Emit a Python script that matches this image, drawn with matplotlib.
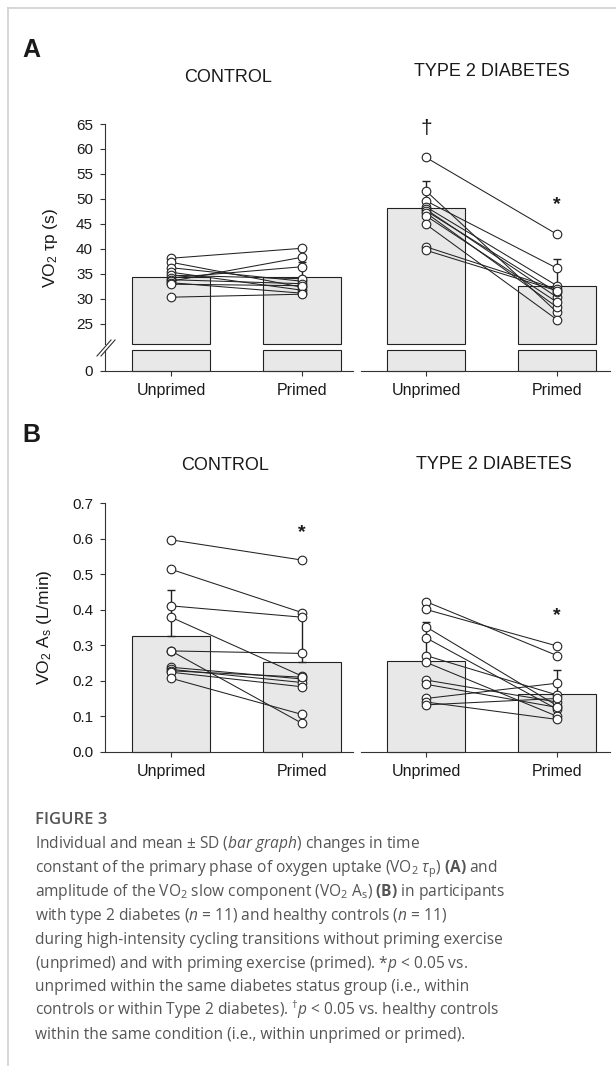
import numpy as np
import matplotlib
matplotlib.use("Agg")
import matplotlib.pyplot as plt
from matplotlib.lines import Line2D

# ---------------- data ----------------
conditions = ["Unprimed", "Primed"]
groups = ["CONTROL", "TYPE 2 DIABETES"]

# Panel A: VO2 tau_p (s)
tau_ctrl_unp = [38.1, 37.3, 36.2, 35.3, 34.7, 34.2, 33.8, 33.5, 33.2, 32.9, 30.3]
tau_ctrl_pri = [40.1, 32.3, 33.5, 31.7, 34.0, 36.4, 33.0, 38.3, 31.1, 32.6, 30.9]
tau_t2d_unp = [58.3, 51.6, 49.6, 48.4, 47.9, 47.6, 47.2, 46.6, 44.9, 40.4, 39.7]
tau_t2d_pri = [42.9, 27.3, 36.1, 32.6, 30.3, 31.3, 28.3, 29.3, 25.8, 31.9, 31.6]
tau_ctrl_mean = [34.3, 34.3]
tau_ctrl_sd = [2.2, 3.1]
tau_t2d_mean = [48.1, 32.5]
tau_t2d_sd = [5.5, 5.4]
tau_ticks = [25, 30, 35, 40, 45, 50, 55, 60, 65]

# Panel B: VO2 As (L/min)
as_ctrl_unp = [0.597, 0.514, 0.411, 0.379, 0.284, 0.284, 0.238, 0.232, 0.228, 0.224, 0.207]
as_ctrl_pri = [0.540, 0.392, 0.379, 0.213, 0.277, 0.080, 0.205, 0.195, 0.210, 0.183, 0.105]
as_t2d_unp = [0.423, 0.401, 0.352, 0.321, 0.271, 0.252, 0.202, 0.190, 0.150, 0.140, 0.132]
as_t2d_pri = [0.271, 0.298, 0.130, 0.120, 0.160, 0.100, 0.140, 0.125, 0.193, 0.091, 0.150]
as_ctrl_mean = [0.326, 0.253]
as_ctrl_sd = [0.130, 0.125]
as_t2d_mean = [0.256, 0.162]
as_t2d_sd = [0.110, 0.068]
as_ticks = [0.0, 0.1, 0.2, 0.3, 0.4, 0.5, 0.6, 0.7]

# axis break levels for panel A
BREAK_TOP = 21.0
BREAK_LOW = 4.2

# ---------------- style ----------------
plt.rcParams["font.family"] = ["Liberation Sans", "DejaVu Sans"]
plt.rcParams["mathtext.fontset"] = "custom"
plt.rcParams["mathtext.rm"] = "Open Sans"
plt.rcParams["mathtext.it"] = "Open Sans:italic"
plt.rcParams["mathtext.bf"] = "Open Sans:bold"

W, H = 616, 1066
fig = plt.figure(figsize=(W / 100, H / 100), dpi=100)
fig.patch.set_facecolor("white")

AXC = "#333333"
BARC = "#e8e8e8"
TXT = "#1a1a1a"
LW = 0.8


def px_axes(l, t, r, b):
    return fig.add_axes([l / W, 1 - b / H, (r - l) / W, (b - t) / H])


def fx(x):
    return x / W


def fy(y):
    return 1 - y / H


XL_CTRL = (-0.504, 1.389)
XL_T2D = (-0.496, 1.405)
BW = 0.6
xpos = np.arange(len(conditions))


def style_axes(ax, left=True, bottom=True):
    for s in ["top", "right"]:
        ax.spines[s].set_visible(False)
    ax.spines["left"].set_visible(left)
    ax.spines["bottom"].set_visible(bottom)
    for s in ["left", "bottom"]:
        ax.spines[s].set_color(AXC)
        ax.spines[s].set_linewidth(LW)
    ax.tick_params(axis="both", colors=AXC, labelcolor=TXT, width=LW,
                   length=3.6, labelsize=11)
    ax.tick_params(axis="y", pad=5)
    ax.tick_params(axis="x", pad=5, labelsize=11.5)
    ax.set_facecolor("none")


def draw_bars(ax, means, sd=None, bottom=0.0, cap=None):
    means = np.asarray(means, dtype=float)
    tops = means if cap is None else np.minimum(means, cap)
    ax.bar(xpos, tops - bottom, bottom=bottom, width=BW, color=BARC,
           edgecolor="#222222", linewidth=LW, zorder=1, clip_on=False)
    if sd is not None:
        ax.errorbar(xpos, means, yerr=[np.zeros(len(means)), sd], fmt="none",
                    ecolor="#222222", elinewidth=1.0, capsize=3.2,
                    capthick=1.0, zorder=2)


def draw_pairs(ax, unp, pri):
    for u, p in zip(unp, pri):
        ax.plot(xpos, [u, p], color="#222222", lw=0.75, zorder=3)
    for i, vals in enumerate([unp, pri]):
        ax.plot(np.full(len(vals), xpos[i]), vals, linestyle="none", marker="o",
                ms=6.2, mfc="white", mec="#222222", mew=0.8, zorder=4, clip_on=False)


def star(ax, x, y):
    ax.text(x, y, "*", ha="center", va="center", fontsize=14,
            fontweight="bold", color=TXT)


# ---------------- Panel A ----------------
A_TOP, A_BRK_T, A_BRK_B, A_BOT = 124, 343.6, 350, 371
# control
axA1 = px_axes(105, A_TOP, 353, A_BRK_T)
axA1.set_xlim(*XL_CTRL)
axA1.set_ylim(BREAK_TOP, 65)
style_axes(axA1, left=True, bottom=False)
axA1.set_yticks(tau_ticks)
axA1.set_xticks([])
draw_bars(axA1, tau_ctrl_mean, tau_ctrl_sd, bottom=BREAK_TOP)
draw_pairs(axA1, tau_ctrl_unp, tau_ctrl_pri)

axA1b = px_axes(105, A_BRK_B, 353, A_BOT)
axA1b.set_xlim(*XL_CTRL)
axA1b.set_ylim(0, BREAK_LOW)
style_axes(axA1b, left=True, bottom=True)
axA1b.set_yticks([0])
axA1b.set_xticks(xpos)
axA1b.set_xticklabels(conditions)
draw_bars(axA1b, tau_ctrl_mean, cap=BREAK_LOW)

# diabetes
axA2 = px_axes(361, A_TOP, 610, A_BRK_T)
axA2.set_xlim(*XL_T2D)
axA2.set_ylim(BREAK_TOP, 65)
style_axes(axA2, left=False, bottom=False)
axA2.set_yticks([])
axA2.set_xticks([])
draw_bars(axA2, tau_t2d_mean, tau_t2d_sd, bottom=BREAK_TOP)
draw_pairs(axA2, tau_t2d_unp, tau_t2d_pri)
axA2.text(0, 64.0, "†", ha="center", va="center", fontsize=15, color=TXT)
star(axA2, 1, 48.8)

axA2b = px_axes(361, A_BRK_B, 610, A_BOT)
axA2b.set_xlim(*XL_T2D)
axA2b.set_ylim(0, BREAK_LOW)
style_axes(axA2b, left=False, bottom=True)
axA2b.set_yticks([])
axA2b.set_xticks(xpos)
axA2b.set_xticklabels(conditions)
draw_bars(axA2b, tau_t2d_mean, cap=BREAK_LOW)

# break marks
for dx in (0, 4):
    fig.add_artist(Line2D([fx(97 + dx), fx(111 + dx)], [fy(356), fy(340)],
                          color=AXC, lw=LW))

# ---------------- Panel B ----------------
B_TOP, B_BOT = 503.3, 751.7
axB1 = px_axes(105, B_TOP, 353, B_BOT)
axB1.set_xlim(*XL_CTRL)
axB1.set_ylim(0, 0.7)
style_axes(axB1, left=True, bottom=True)
axB1.set_yticks(as_ticks)
axB1.set_yticklabels([f"{t:.1f}" for t in as_ticks])
axB1.set_xticks(xpos)
axB1.set_xticklabels(conditions)
draw_bars(axB1, as_ctrl_mean, as_ctrl_sd)
draw_pairs(axB1, as_ctrl_unp, as_ctrl_pri)
star(axB1, 1, 0.618)

axB2 = px_axes(361, B_TOP, 610, B_BOT)
axB2.set_xlim(*XL_T2D)
axB2.set_ylim(0, 0.7)
style_axes(axB2, left=False, bottom=True)
axB2.set_yticks([])
axB2.set_xticks(xpos)
axB2.set_xticklabels(conditions)
draw_bars(axB2, as_t2d_mean, as_t2d_sd)
draw_pairs(axB2, as_t2d_unp, as_t2d_pri)
star(axB2, 1, 0.383)

# ---------------- texts ----------------
fig.text(fx(31), fy(50), "A", ha="center", va="center", fontsize=18,
         fontweight="bold", color=TXT)
fig.text(fx(31), fy(435), "B", ha="center", va="center", fontsize=18,
         fontweight="bold", color=TXT)

fig.text(fx(228), fy(78), groups[0], ha="center", va="center", fontsize=13, color=TXT)
fig.text(fx(492), fy(72), groups[1], ha="center", va="center", fontsize=13, color=TXT)
fig.text(fx(225), fy(466), groups[0], ha="center", va="center", fontsize=13, color=TXT)
fig.text(fx(494), fy(464), groups[1], ha="center", va="center", fontsize=13, color=TXT)

fig.text(fx(50), fy(248), r"VO$_{\mathdefault{2}}$ τp (s)", rotation=90,
         ha="center", va="center", fontsize=12.5, color=TXT)
fig.text(fx(44), fy(627), r"VO$_{\mathdefault{2}}$ A$_{\mathdefault{s}}$ (L/min)",
         rotation=90, ha="center", va="center", fontsize=12.5, color=TXT)

# frame lines (page card)
fig.add_artist(Line2D([fx(7.5), fx(616)], [fy(7.5), fy(7.5)], color="#cfcfcf", lw=1.2))
fig.add_artist(Line2D([fx(7.5), fx(7.5)], [fy(7.5), fy(1066)], color="#cfcfcf", lw=1.2))

# ---------------- caption ----------------
CAP = "#555555"
capfont = ["Open Sans", "DejaVu Sans"]
fig.text(fx(35), fy(824), "FIGURE 3", ha="left", va="baseline", fontsize=12,
         fontweight="semibold", color=CAP, family=capfont)
cap_lines = [
    r"Individual and mean ± SD ($\mathit{bar\ graph}$) changes in time",
    r"constant of the primary phase of oxygen uptake (VO$_{\mathdefault{2}}$ $\mathit{\tau}_{\mathdefault{p}}$) $\mathbf{(A)}$ and",
    r"amplitude of the VO$_{\mathdefault{2}}$ slow component (VO$_{\mathdefault{2}}$ A$_{\mathdefault{s}}$) $\mathbf{(B)}$ in participants",
    r"with type 2 diabetes ($\mathit{n}$ = 11) and healthy controls ($\mathit{n}$ = 11)",
    r"during high-intensity cycling transitions without priming exercise",
    r"(unprimed) and with priming exercise (primed). *$\mathit{p}$ < 0.05 vs.",
    r"unprimed within the same diabetes status group (i.e., within",
    r"controls or within Type 2 diabetes). $^{\mathdefault{†}}$$\mathit{p}$ < 0.05 vs. healthy controls",
    r"within the same condition (i.e., within unprimed or primed).",
]
for i, line in enumerate(cap_lines):
    fig.text(fx(35), fy(848 + i * 23.9), line, ha="left", va="baseline",
             fontsize=11.2, color=CAP, family=capfont)

fig.savefig("out.png", dpi=100, facecolor="white")
